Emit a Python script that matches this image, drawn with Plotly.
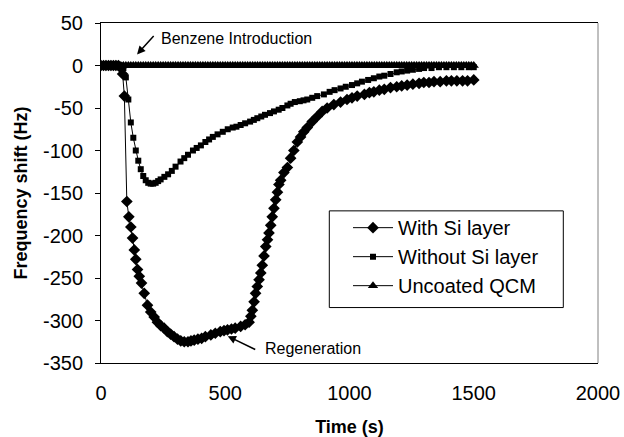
import plotly.graph_objects as go

# ---- data ----
with_si_t = [0, 10, 20, 30, 40, 50, 60, 70, 80, 87, 94, 104, 112, 120, 127, 134, 140, 147, 154, 163,
             174, 187, 200, 214, 227, 240, 254, 267, 280, 294, 308, 321, 335, 350, 362, 375, 390, 405,
             420, 442, 460, 480, 495, 509, 525, 540, 562, 580, 596, 603, 609, 616, 622, 629, 636, 643,
             649, 656, 663, 670, 676, 683, 689, 696, 703, 710, 716, 723, 736, 750, 763, 776, 790, 803,
             816, 830, 850, 870, 890, 910, 937, 964, 990, 1010, 1031, 1060, 1080, 1098, 1120, 1140,
             1165, 1190, 1210, 1232, 1255, 1280, 1299, 1320, 1340, 1365, 1390, 1410, 1432, 1455, 1475, 1500]
with_si_v = [0, 0, 0, 0, 0, 0, 0, 0, -3, -10, -36, -160, -178, -190, -203, -217, -228, -240, -248, -256,
             -268, -282, -290, -296, -302, -306, -309, -313, -316, -319, -322, -324, -325, -325, -324, -323,
             -322, -321, -319, -317, -315, -313, -312, -311, -310, -309, -307, -305, -302, -295, -288, -278,
             -268, -260, -252, -244, -235, -224, -213, -205, -197, -188, -178, -168, -158, -149, -140, -135,
             -126, -120, -109, -100, -90, -84, -78, -73, -66, -60, -54, -50, -46, -43, -40, -38, -36, -34,
             -32, -31, -29, -28, -26, -25, -24, -23, -22, -21, -20, -20, -19, -19, -18, -18, -18, -18, -18, -17]

without_si_t = [0, 10, 20, 30, 40, 50, 60, 70, 80, 90, 100, 110, 120, 130, 140, 150, 160, 170, 180, 190,
                200, 210, 220, 230, 240, 255, 270, 285, 300, 320, 335, 350, 370, 385, 402, 420, 435, 450,
                469, 490, 510, 530, 545, 562, 580, 600, 615, 629, 645, 660, 680, 696, 715, 730, 750, 763,
                780, 800, 815, 830, 850, 870, 897, 920, 940, 964, 985, 1010, 1031, 1050, 1075, 1098, 1120,
                1140, 1165, 1190, 1210, 1232, 1255, 1280, 1300, 1330, 1360, 1390, 1420, 1450, 1480, 1500]
without_si_v = [0, 0, 0, 0, 0, 0, 0, 0, 0, -3, -14, -40, -67, -85, -100, -112, -122, -130, -135, -138,
                -139, -139, -138, -136, -134, -131, -128, -124, -119, -113, -109, -105, -100, -97, -94, -90,
                -87, -84, -81, -78, -75, -73, -72, -70, -68, -66, -64, -62, -60, -58, -56, -54, -52, -50,
                -47, -45, -43, -42, -41, -40, -38, -36, -34, -31, -29, -27, -25, -23, -21, -19, -17, -15,
                -13, -12, -10, -8, -7, -6, -5, -4, -3, -3, -2, -2, -2, -2, -2, -2]

uncoated_t = [0, 10, 20, 30, 40, 50, 60, 70, 80, 90, 100, 110, 120, 130, 140, 150, 160, 170, 180, 190,
              200, 210, 220, 230, 240, 250, 260, 270, 280, 290, 300, 310, 320, 330, 340, 350, 360, 370,
              380, 390, 400, 410, 420, 430, 440, 450, 460, 470, 480, 490, 500, 510, 520, 530, 540, 550,
              560, 570, 580, 590, 600, 610, 620, 630, 640, 650, 660, 670, 680, 690, 700, 710, 720, 730,
              740, 750, 760, 770, 780, 790, 800, 810, 820, 830, 840, 850, 860, 870, 880, 890, 900, 910,
              920, 930, 940, 950, 960, 970, 980, 990, 1000, 1010, 1020, 1030, 1040, 1050, 1060, 1070,
              1080, 1090, 1100, 1110, 1120, 1130, 1140, 1150, 1160, 1170, 1180, 1190, 1200, 1210, 1220,
              1230, 1240, 1250, 1260, 1270, 1280, 1290, 1300, 1310, 1320, 1330, 1340, 1350, 1360, 1370,
              1380, 1390, 1400, 1410, 1420, 1430, 1440, 1450, 1460, 1470, 1480, 1490, 1500]
uncoated_v = [0, 0, 0, 0, 0, 0, 0, 0, 0, 0, 0, 0, 0, 0, 0, 0, 0, 0, 0, 0,
              0, 0, 0, 0, 0, 0, 0, 0, 0, 0, 0, 0, 0, 0, 0, 0, 0, 0,
              0, 0, 0, 0, 0, 0, 0, 0, 0, 0, 0, 0, 0, 0, 0, 0, 0, 0,
              0, 0, 0, 0, 0, 0, 0, 0, 0, 0, 0, 0, 0, 0, 0, 0, 0, 0,
              0, 0, 0, 0, 0, 0, 0, 0, 0, 0, 0, 0, 0, 0, 0, 0, 0, 0,
              0, 0, 0, 0, 0, 0, 0, 0, 0, 0, 0, 0, 0, 0, 0, 0,
              0, 0, 0, 0, 0, 0, 0, 0, 0, 0, 0, 0, 0, 0, 0,
              0, 0, 0, 0, 0, 0, 0, 0, 0, 0, 0, 0, 0, 0, 0,
              0, 0, 0, 0, 0, 0, 0, 0, 0, 0, 0, 0, 0]

series_names = ["With Si layer", "Without Si layer", "Uncoated QCM"]
x_ticks = [0, 500, 1000, 1500, 2000]
x_tick_text = ["0", "500", "1000", "1500", "2000"]
y_ticks = [50, 0, -50, -100, -150, -200, -250, -300, -350]
y_tick_text = ["50", "0", "-50", "-100", "-150", "-200", "-250", "-300", "-350"]

assert len(with_si_t) == len(with_si_v)
assert len(without_si_t) == len(without_si_v)
assert len(uncoated_t) == len(uncoated_v), (len(uncoated_t), len(uncoated_v))

FONT = "Liberation Sans, Arial, sans-serif"

# plot area in pixels
L, R, T, B = 101, 598, 23, 362.7
W, H = 624, 437
PW, PH = R - L, B - T

fig = go.Figure()
fig.add_trace(go.Scatter(x=with_si_t, y=with_si_v, mode="lines+markers", name=series_names[0],
                         legendgroup="a",
                         line=dict(color="black", width=1),
                         marker=dict(symbol="diamond", size=9, color="black")))
fig.add_trace(go.Scatter(x=without_si_t, y=without_si_v, mode="lines+markers", name=series_names[1],
                         legendgroup="b",
                         line=dict(color="black", width=1),
                         marker=dict(symbol="square", size=6, color="black")))
fig.add_trace(go.Scatter(x=uncoated_t, y=uncoated_v, mode="lines+markers", name=series_names[2],
                         legendgroup="c",
                         line=dict(color="black", width=1),
                         marker=dict(symbol="triangle-up", size=9, color="black")))

fig.update_layout(
    width=W, height=H,
    margin=dict(l=L, r=W - R, t=T, b=H - B),
    paper_bgcolor="white", plot_bgcolor="white",
    font=dict(family=FONT, color="black", size=20),
    showlegend=True,
    legend=dict(x=(348 - L) / PW, y=(B - 208) / PH, xanchor="left", yanchor="top",
                bgcolor="rgba(0,0,0,0)", borderwidth=0,
                font=dict(family=FONT, size=20, color="black"),
                tracegroupgap=0, itemwidth=40),
    xaxis=dict(range=[0, 2000], tickvals=x_ticks, ticktext=x_tick_text, ticks="",
               showgrid=False, zeroline=False, automargin=False,
               showline=True, linecolor="black", linewidth=1, mirror=True,
               ticklabelstandoff=12,
               tickfont=dict(family=FONT, size=20),
               title=dict(text="<b>Time (s)</b>", font=dict(family=FONT, size=18), standoff=22)),
    yaxis=dict(range=[-350, 50], tickvals=y_ticks, ticktext=y_tick_text, ticks="outside", ticklen=5,
               tickcolor="black", automargin=False,
               showgrid=False, zeroline=False, showline=True, linecolor="black", linewidth=1,
               ticklabelstandoff=8,
               tickfont=dict(family=FONT, size=20),
               title=dict(text="<b>Frequency shift (Hz)</b>", font=dict(family=FONT, size=18), standoff=10)),
)

# right border (grey) and legend box
fig.add_shape(type="line", xref="paper", yref="paper", x0=1, x1=1, y0=0, y1=1,
              line=dict(color="#808080", width=1))
fig.add_shape(type="rect", xref="paper", yref="paper",
              x0=(329.3 - L) / PW, x1=(563.3 - L) / PW,
              y0=(B - 307.3) / PH, y1=(B - 210.7) / PH,
              line=dict(color="black", width=1), fillcolor="rgba(0,0,0,0)", layer="above")

# annotations
fig.add_annotation(x=145, y=13, ax=18, ay=-20, text="", showarrow=True,
                   arrowhead=2, arrowsize=1.1, arrowwidth=1.5, arrowcolor="black")
fig.add_annotation(x=233, y=32, text="Benzene Introduction", showarrow=False,
                   xanchor="left", yanchor="middle", font=dict(family=FONT, size=16))
fig.add_annotation(x=510, y=-318.5, ax=29, ay=14, text="", showarrow=True,
                   arrowhead=2, arrowsize=1.1, arrowwidth=1.5, arrowcolor="black")
fig.add_annotation(x=652, y=-333, text="Regeneration", showarrow=False,
                   xanchor="left", yanchor="middle", font=dict(family=FONT, size=16))

fig.write_html("out.html")
